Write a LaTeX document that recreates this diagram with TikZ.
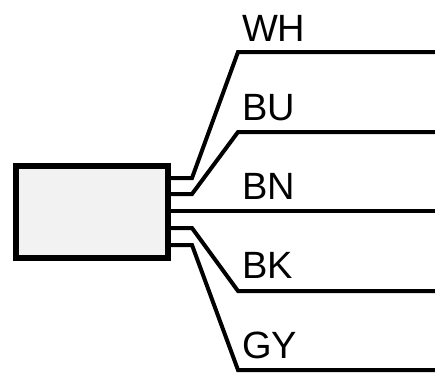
\documentclass[tikz,border=0pt]{standalone}
\usepackage{fontspec}
\setmainfont{Liberation Sans}
\usepackage{tikz}
\usetikzlibrary{positioning}

\begin{document}
\begin{tikzpicture}[x=1pt,y=-1pt]
\tikzstyle{every node}+=[inner sep=0pt,outer sep=0pt]
\tikzset{
  housing/.style={draw=black,line width=6pt,fill=black!5,minimum width=152pt,minimum height=92pt},
  wire/.style={draw=black,line width=4pt},
  colour label/.style={anchor=base west,font=\fontsize{38}{38}\selectfont,text=black}
}
\useasboundingbox (0,0) rectangle (435,372);
\node [housing] (sensor) at (92,212) {};
\coordinate (wh knee) at (192,178);
\coordinate (bu knee) at (192,194);
\coordinate (bk knee) at (192,228);
\coordinate (gy knee) at (192,245);
\coordinate (wh bend) at (238,52);
\coordinate (bu bend) at (238,132);
\coordinate (bk bend) at (238,291);
\coordinate (gy bend) at (238,370);
\coordinate (wh end) at (435,52);
\coordinate (bu end) at (435,132);
\coordinate (bn end) at (435,211);
\coordinate (bk end) at (435,291);
\coordinate (gy end) at (435,370);
\draw [wire] (sensor.east |- wh knee) -- (wh knee) -- (wh bend) -- (wh end);
\draw [wire] (sensor.east |- bu knee) -- (bu knee) -- (bu bend) -- (bu end);
\draw [wire] (sensor.east |- bn end) -- (bn end);
\draw [wire] (sensor.east |- bk knee) -- (bk knee) -- (bk bend) -- (bk end);
\draw [wire] (sensor.east |- gy knee) -- (gy knee) -- (gy bend) -- (gy end);
\node [colour label] (wh) at (242,41) {WH};
\node [colour label] (bu) at (242,120) {BU};
\node [colour label] (bn) at (242,199) {BN};
\node [colour label] (bk) at (242,278) {BK};
\node [colour label] (gy) at (242,358) {GY};
\end{tikzpicture}
\end{document}
